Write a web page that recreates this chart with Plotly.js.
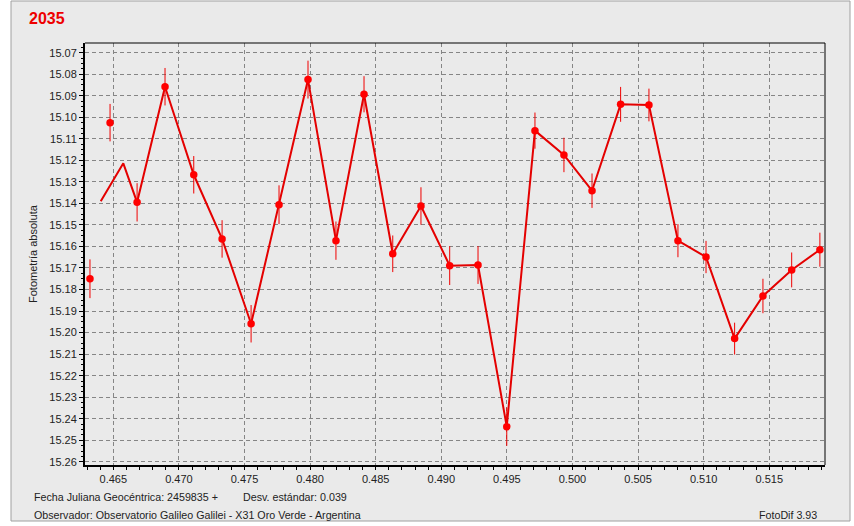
<!DOCTYPE html>
<html>
<head>
<meta charset="utf-8">
<script src="https://cdn.plot.ly/plotly-3.0.1.min.js"></script>
<style>html,body{margin:0;padding:0;background:#fff;}#chart{width:854px;height:526px;}</style>
</head>
<body>
<div id="chart"></div>
<script>
// Observations (Julian date fraction, absolute magnitude, error)
const jdFrac = [0.46322, 0.46475, 0.46681, 0.46894, 0.47113, 0.47329, 0.47550, 0.47763, 0.47984, 0.48197,
                0.48411, 0.48630, 0.48845, 0.49064, 0.49280, 0.49499, 0.49714, 0.49935, 0.50149, 0.50367,
                0.50583, 0.50804, 0.51018, 0.51236, 0.51452, 0.51671, 0.51886];
const mag = [15.175, 15.1025, 15.1395, 15.0858, 15.1267, 15.1565, 15.1959, 15.1406, 15.0825, 15.1573,
             15.0893, 15.1634, 15.1412, 15.1689, 15.1686, 15.2437, 15.1062, 15.1175, 15.1341, 15.0940,
             15.0943, 15.1573, 15.1649, 15.2028, 15.1830, 15.1709, 15.1615];
const magErr = [0.0090, 0.0087, 0.0089, 0.0087, 0.0087, 0.0087, 0.0087, 0.0090, 0.0088, 0.0089,
                0.0084, 0.0085, 0.0087, 0.0090, 0.0088, 0.0089, 0.0084, 0.0080, 0.0080, 0.0081,
                0.0076, 0.0077, 0.0075, 0.0074, 0.0080, 0.0081, 0.0079];
// Connecting curve: its first two vertices differ from the first two observations
const curveHeadX = [0.46404, 0.46576];
const curveHeadY = [15.1390, 15.1214];
const curveX = curveHeadX.concat(jdFrac.slice(2));
const curveY = curveHeadY.concat(mag.slice(2));

const yTicks = [15.07,15.08,15.09,15.10,15.11,15.12,15.13,15.14,15.15,15.16,15.17,15.18,15.19,15.20,15.21,15.22,15.23,15.24,15.25,15.26];
const xTicks = [0.465,0.470,0.475,0.480,0.485,0.490,0.495,0.500,0.505,0.510,0.515];

const titleText = '2035';
const yTitle = 'Fotometría absoluta';
const footer1 = 'Fecha Juliana Geocéntrica: 2459835 +';
const footer2 = 'Desv. estándar: 0.039';
const footer3 = 'Observador: Observatorio Galileo Galilei - X31 Oro Verde - Argentina';
const footer4 = 'FotoDif 3.93';

const L = 85, R = 825, T = 43, B = 465, W = 854, H = 526;
const px = x => (x - L) / (R - L);
const py = y => (B - y) / (B - T);
const FONT = 'Liberation Sans, Arial, sans-serif';

const traces = [
  {x: curveX, y: curveY, type: 'scatter', mode: 'lines',
   line: {color: 'rgb(228,0,0)', width: 2}, hoverinfo: 'skip', showlegend: false},
  {x: jdFrac, y: mag, type: 'scatter', mode: 'markers',
   marker: {color: 'rgb(255,0,0)', size: 7.5},
   error_y: {type: 'data', array: magErr, visible: true, color: 'rgb(240,0,0)', thickness: 1, width: 0},
   hoverinfo: 'skip', showlegend: false}
];

const layout = {
  width: W, height: H,
  margin: {l: L, r: W - R, t: T, b: H - B, pad: 0},
  paper_bgcolor: '#ffffff',
  plot_bgcolor: 'rgba(0,0,0,0)',
  font: {family: FONT, size: 11, color: '#222'},
  xaxis: {
    range: [0.46284, 0.51925],
    tickvals: xTicks, ticktext: xTicks.map(v => v.toFixed(3)),
    showgrid: true, gridcolor: '#858585', griddash: '4px,3px', gridwidth: 1,
    showline: true, linecolor: '#000', linewidth: 2,
    ticks: 'outside', ticklen: 3, tickcolor: '#000',
    minor: {dtick: 0.001, ticks: 'outside', ticklen: 3, tickcolor: '#000', showgrid: false},
    zeroline: false, tickfont: {size: 11, color: '#222'}
  },
  yaxis: {
    range: [15.2615, 15.0655],
    tickvals: yTicks, ticktext: yTicks.map(v => v.toFixed(2)),
    showgrid: true, gridcolor: '#858585', griddash: '4px,3px', gridwidth: 1,
    showline: true, linecolor: '#000', linewidth: 2,
    ticks: 'outside', ticklen: 4, tickcolor: '#000',
    minor: {dtick: 0.0025, ticks: 'outside', ticklen: 2, tickcolor: '#000', showgrid: false},
    zeroline: false, tickfont: {size: 11, color: '#222'}
  },
  shapes: [
    {type: 'rect', xref: 'paper', yref: 'paper', x0: px(11), x1: px(850), y0: py(521), y1: py(1),
     fillcolor: '#eaeaea', line: {color: '#a0a0a0', width: 1}, layer: 'below'},
    {type: 'line', xref: 'paper', yref: 'paper', x0: 0, x1: 1, y0: 1, y1: 1, line: {color: '#000', width: 1}},
    {type: 'line', xref: 'paper', yref: 'paper', x0: 1, x1: 1, y0: 0, y1: 1, line: {color: '#000', width: 1}}
  ],
  annotations: [
    {text: '<b>' + titleText + '</b>', xref: 'paper', yref: 'paper', x: px(27), y: py(18),
     xanchor: 'left', yanchor: 'middle', showarrow: false, font: {size: 16, color: '#ee0000', family: FONT}},
    {text: yTitle, xref: 'paper', yref: 'paper', x: px(33), y: py(254), textangle: -90,
     xanchor: 'center', yanchor: 'middle', showarrow: false, font: {size: 11, color: '#222', family: FONT}},
    {text: footer1, xref: 'paper', yref: 'paper', x: px(32), y: py(497),
     xanchor: 'left', yanchor: 'middle', showarrow: false, font: {size: 10.7, color: '#222', family: FONT}},
    {text: footer2, xref: 'paper', yref: 'paper', x: px(241), y: py(497),
     xanchor: 'left', yanchor: 'middle', showarrow: false, font: {size: 10.7, color: '#222', family: FONT}},
    {text: footer3, xref: 'paper', yref: 'paper', x: px(32), y: py(515),
     xanchor: 'left', yanchor: 'middle', showarrow: false, font: {size: 10.7, color: '#222', family: FONT}},
    {text: footer4, xref: 'paper', yref: 'paper', x: px(819), y: py(515),
     xanchor: 'right', yanchor: 'middle', showarrow: false, font: {size: 10.7, color: '#222', family: FONT}}
  ]
};

Plotly.newPlot('chart', traces, layout, {staticPlot: true, displayModeBar: false});
</script>
</body>
</html>
